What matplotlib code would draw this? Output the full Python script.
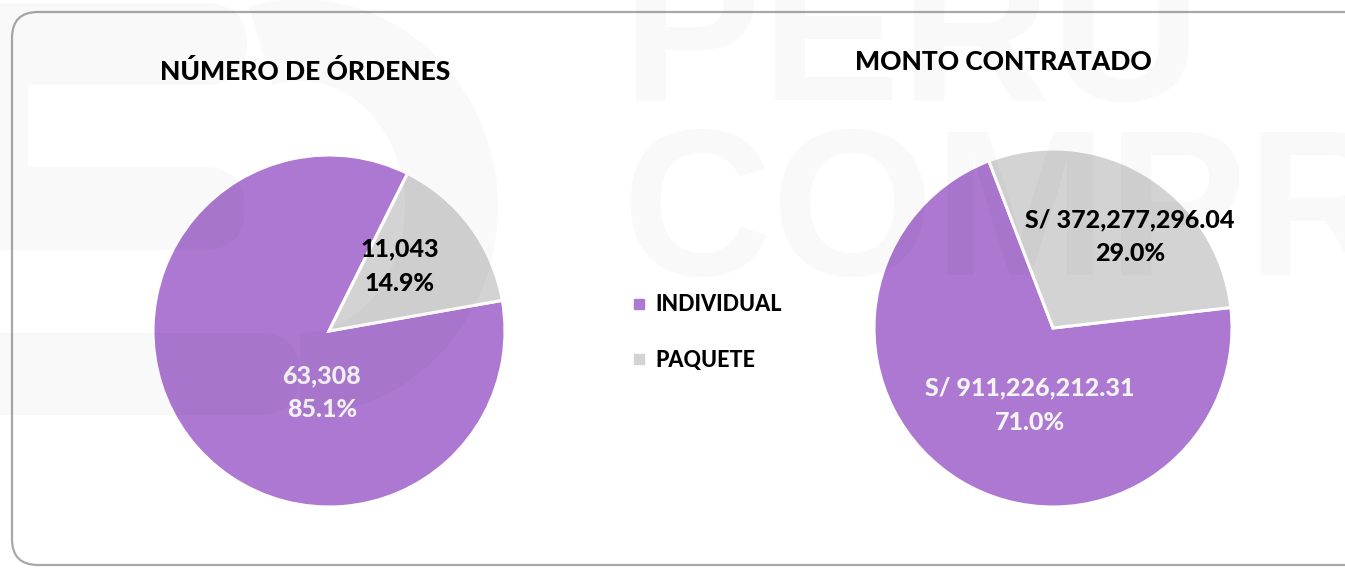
import numpy as np
import matplotlib
matplotlib.use("Agg")
import matplotlib.pyplot as plt
from matplotlib.patches import FancyBboxPatch, Polygon
from matplotlib.lines import Line2D

plt.rcParams['font.family'] = ['Lato', 'DejaVu Sans']

# ---- data ----
categories = ["INDIVIDUAL", "PAQUETE"]
ordenes = [63308, 11043]
monto = [911226212.31, 372277296.04]
titles = ["NÚMERO DE ÓRDENES", "MONTO CONTRATADO"]
colors = ["#ad78d1", "#d3d3d3"]
text_colors = ["#f4f4f4", "#000000"]

W, H = 1345, 569
fig = plt.figure(figsize=(W / 100, H / 100), dpi=100)
fig.patch.set_facecolor("white")
HEAVY = 900

# background axes (pixel coords)
bg = fig.add_axes([0, 0, 1, 1], zorder=0)
bg.set_xlim(0, W); bg.set_ylim(H, 0); bg.axis("off")
box = FancyBboxPatch((12, 12), 1400, 553, boxstyle="round,pad=0,rounding_size=26",
                     fc="white", ec="#a8a8a8", lw=1.6)
bg.add_patch(box)


def pie_axes(cx, cy, r):
    ax = fig.add_axes([(cx - r) / W, (H - cy - r) / H, 2 * r / W, 2 * r / H], zorder=2)
    return ax


def draw_pie(ax, values, startangle, fmt, label_pos):
    ax.pie(values, colors=colors, startangle=startangle, counterclock=True, radius=1,
           wedgeprops=dict(edgecolor="white", linewidth=2.2))
    ax.set_xlim(-1, 1); ax.set_ylim(-1, 1); ax.set_aspect("equal"); ax.axis("off")
    total = sum(values)
    for v, (lx, ly), tc in zip(values, label_pos, text_colors):
        ax.text(lx, ly, f"{fmt(v)}\n{100 * v / total:.1f}%", ha="center", va="center",
                fontsize=18, fontweight=HEAVY, color=tc, linespacing=1.6)


ax1 = pie_axes(329, 331, 176)
draw_pie(ax1, ordenes, 63.5, lambda v: f"{v:,}", [(-0.04, -0.35), (0.40, 0.37)])

ax2 = pie_axes(1053, 328, 179)
draw_pie(ax2, monto, 111.0, lambda v: f"S/ {v:,.2f}", [(-0.13, -0.43), (0.43, 0.51)])

fig.text(305 / W, 1 - 72 / H, titles[0], ha="center", va="center", fontsize=19,
         fontweight=HEAVY, color="black", zorder=3)
fig.text(1003 / W, 1 - 62 / H, titles[1], ha="center", va="center", fontsize=19,
         fontweight=HEAVY, color="black", zorder=3)

# legend
handles = [Line2D([], [], marker="s", ls="none", color=c, markersize=7) for c in colors]
leg = fig.legend(handles, categories, loc="upper left", bbox_to_anchor=(614 / W, 1 - 275 / H),
                 frameon=False, handlelength=0.55, handletextpad=0.45, labelspacing=1.6,
                 prop=dict(size=15.5, weight=HEAVY))

# watermark overlay
ov = fig.add_axes([0, 0, 1, 1], zorder=5)
ov.set_xlim(0, W); ov.set_ylim(H, 0); ov.axis("off"); ov.patch.set_alpha(0)
A = 0.025
wm = dict(fc="#000000", ec="none", alpha=A)
for (x0, y0, x1, y1) in [(-60, 3, 247, 85), (-60, 167, 245, 250), (-60, 333, 300, 415)]:
    ov.add_patch(FancyBboxPatch((x0, y0), x1 - x0, y1 - y0,
                                boxstyle=f"round,pad=0,rounding_size={(y1 - y0) / 2}", **wm))
ov.add_patch(FancyBboxPatch((-60, 85), 88, 82, boxstyle="square,pad=0", **wm))
t = np.linspace(np.deg2rad(-90), np.deg2rad(105), 80)
cx, cy = 300, 207
outer = np.c_[cx + 198 * np.cos(t), cy - 208 * np.sin(t)]
inner = np.c_[cx + 105 * np.cos(t[::-1]), cy - 126 * np.sin(t[::-1])]
ov.add_patch(Polygon(np.r_[outer, inner], closed=True, **wm))
ov.text(622, 100, "PERU", fontsize=150, fontweight="bold", family="Liberation Sans",
        color="black", alpha=A, ha="left", va="baseline")
ov.text(622, 275, "COMPRAS", fontsize=150, fontweight="bold", family="Liberation Sans",
        color="black", alpha=A, ha="left", va="baseline")

fig.savefig("out.png", dpi=100)
